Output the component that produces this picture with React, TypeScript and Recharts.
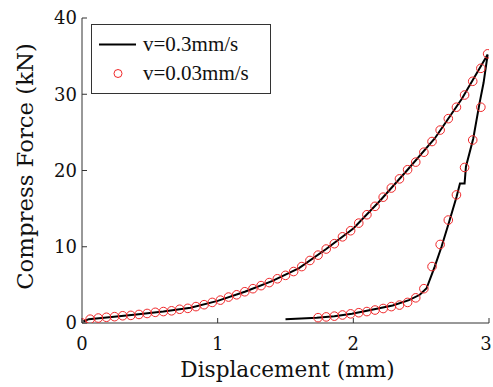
import { ComposedChart, Legend, Line, Scatter, XAxis, YAxis } from "recharts";

const FONT = "Liberation Serif, Times New Roman, serif";
// svg text only resolves this serif face by name
const SVG_FONT = "DejaVu Serif";

const xTicks = [0, 1, 2, 3];
const yTicks = [0, 10, 20, 30, 40];

// v=0.3mm/s: loading branch then unloading branch
const fastX = [
  0.01, 0.05, 0.2, 0.4, 0.6, 0.8, 1.0, 1.2, 1.4, 1.6, 1.8, 2.0, 2.2, 2.4, 2.6, 2.8, 2.99,
  2.96, 2.93, 2.884, 2.83, 2.82, 2.786, 2.761, 2.707, 2.65, 2.6, 2.54, 2.49, 2.41, 2.29, 2.1,
  1.99, 1.86, 1.73, 1.5
];
const fastY = [
  0.2, 0.5, 0.75, 1.1, 1.5, 2.0, 2.9, 4.1, 5.5, 7.2, 9.7, 12.4, 16.1, 20.1, 24.2, 29.4, 35.2,
  31.5, 28.8, 24.2, 20.5, 18.3, 18.3, 16.55, 13.3, 10.0, 7.4, 4.55, 3.7, 3.0, 2.3, 1.6,
  1.2, 0.9, 0.7, 0.5
];

// v=0.03mm/s markers, loading
const slowLoadX = [
  0, 0.06, 0.12, 0.18, 0.24, 0.3, 0.36, 0.42, 0.48, 0.54, 0.6, 0.66, 0.72, 0.78, 0.84, 0.9,
  0.96, 1.02, 1.08, 1.14, 1.2, 1.26, 1.32, 1.38, 1.44, 1.5, 1.56, 1.62, 1.68, 1.74, 1.8, 1.86,
  1.92, 1.98, 2.04, 2.1, 2.16, 2.22, 2.28, 2.34, 2.4, 2.46, 2.52, 2.58, 2.64, 2.7, 2.76, 2.82,
  2.88, 2.94, 2.99
];
const slowLoadY = [
  0, 0.5, 0.65, 0.75, 0.83, 0.95, 1.0, 1.12, 1.25, 1.4, 1.5, 1.6, 1.8, 1.92, 2.15, 2.4,
  2.7, 3.0, 3.4, 3.7, 4.1, 4.5, 4.9, 5.3, 5.8, 6.25, 6.75, 7.4, 8.2, 8.9, 9.7, 10.4,
  11.3, 12.1, 13.1, 14.2, 15.3, 16.5, 17.7, 18.9, 20.1, 21.1, 22.4, 23.8, 25.3, 26.8, 28.3, 29.9,
  31.7, 33.4, 35.3
];

// v=0.03mm/s markers, unloading
const slowUnloadX = [
  2.94, 2.88, 2.82, 2.76, 2.7, 2.64, 2.58, 2.52, 2.46, 2.4, 2.34, 2.28, 2.22, 2.16, 2.1, 2.04,
  1.98, 1.92, 1.86, 1.8, 1.74
];
const slowUnloadY = [
  28.3, 24.0, 20.4, 16.8, 13.5, 10.3, 7.4, 4.5, 3.3, 2.7, 2.35, 2.15, 1.9, 1.7, 1.5, 1.35,
  1.2, 1.05, 0.9, 0.8, 0.7
];

const fast = fastX.map((x, i) => ({ x, y: fastY[i] }));
const slow = [
  ...slowLoadX.map((x, i) => ({ x, y: slowLoadY[i] })),
  ...slowUnloadX.map((x, i) => ({ x, y: slowUnloadY[i] }))
];

const RED = "#f0282a";
const AXIS = "#333";
const INK = "#111";

function XTick(props: any) {
  const { x, y, payload, index } = props;
  // keep the last label inside the canvas edge
  const dx = index === xTicks.length - 1 ? -3 : 0;
  return (
    <text x={x} y={y} dx={dx} dy="0.72em" textAnchor="middle" fill={INK} fontSize={18} fontFamily={SVG_FONT}>
      {payload.value}
    </text>
  );
}

function YTick(props: any) {
  const { x, y, payload } = props;
  return (
    <text x={x} y={y} dy="0.36em" textAnchor="end" fill={INK} fontSize={18} fontFamily={SVG_FONT}>
      {payload.value}
    </text>
  );
}

function XLabel(props: any) {
  const vb = props.viewBox || {};
  return (
    <text
      x={vb.x + vb.width / 2 + 2}
      y={vb.y + vb.height - 10}
      textAnchor="middle"
      fill={INK}
      fontSize={21.6}
      fontFamily={SVG_FONT}
    >
      Displacement (mm)
    </text>
  );
}

function YLabel(props: any) {
  const vb = props.viewBox || {};
  const cx = vb.x + 25;
  const cy = vb.y + vb.height / 2 - 4;
  return (
    <text
      x={cx}
      y={cy}
      dy="0.36em"
      textAnchor="middle"
      transform={`rotate(-90, ${cx}, ${cy})`}
      fill={INK}
      fontSize={22.8}
      fontFamily={SVG_FONT}
    >
      Compress Force (kN)
    </text>
  );
}

function Ring(props: any) {
  const { cx, cy } = props;
  if (cx == null || cy == null) return null;
  return <circle cx={cx} cy={cy} r={4.3} fill="none" stroke={RED} strokeWidth={1} />;
}

function LegendBox(props: any) {
  const items = [...(props.payload || [])].sort(
    (a: any, b: any) => (a.type === "line" ? 0 : 1) - (b.type === "line" ? 0 : 1)
  );
  return (
    <div
      style={{
        border: `1.3px solid ${AXIS}`,
        background: "#fff",
        width: 178,
        padding: "5px 0",
        fontFamily: FONT,
        fontSize: 21,
        color: INK
      }}
    >
      {items.map((it: any) => (
        <div key={it.value} style={{ display: "flex", alignItems: "center", height: 29 }}>
          <svg width={51} height={29} style={{ flex: "none" }}>
            {it.type === "line" ? (
              <line x1={7} x2={44} y1={14.5} y2={14.5} stroke="#000" strokeWidth={2} />
            ) : (
              <circle cx={26} cy={14.5} r={4} fill="none" stroke={RED} strokeWidth={1} />
            )}
          </svg>
          <span style={{ whiteSpace: "nowrap" }}>{it.value}</span>
        </div>
      ))}
    </div>
  );
}

export default function App() {
  return (
    <div
      style={{
        position: "absolute",
        left: 0,
        top: 0,
        width: 493,
        height: 387,
        background: "#fff",
        fontFamily: FONT
      }}
    >
      <ComposedChart width={493} height={387} margin={{ top: 18, right: 4, bottom: 0, left: 0 }}>
        <XAxis
          xAxisId="b"
          dataKey="x"
          type="number"
          domain={[0, 3]}
          ticks={xTicks}
          height={64}
          tickSize={-5}
          tickMargin={19}
          stroke={AXIS}
          tick={XTick}
          allowDataOverflow
          label={XLabel}
        />
        <XAxis
          xAxisId="t"
          orientation="top"
          type="number"
          domain={[0, 3]}
          ticks={xTicks}
          height={0}
          tick={false}
          tickSize={-5}
          stroke={AXIS}
        />
        <YAxis
          yAxisId="l"
          type="number"
          domain={[0, 40]}
          ticks={yTicks}
          width={82}
          tickSize={-5}
          tickMargin={10}
          stroke={AXIS}
          tick={YTick}
          allowDataOverflow
          label={YLabel}
        />
        <YAxis
          yAxisId="r"
          orientation="right"
          type="number"
          domain={[0, 40]}
          ticks={yTicks}
          width={0}
          tick={false}
          tickSize={-5}
          stroke={AXIS}
        />
        <Legend
          layout="vertical"
          align="center"
          verticalAlign="middle"
          wrapperStyle={{ left: 91, top: 24 }}
          content={LegendBox}
        />
        <Line
          xAxisId="b"
          yAxisId="l"
          data={fast}
          dataKey="y"
          name="v=0.3mm/s"
          type="linear"
          stroke="#000"
          strokeWidth={2}
          dot={false}
          legendType="line"
          isAnimationActive={false}
        />
        <Scatter
          xAxisId="b"
          yAxisId="l"
          data={slow}
          dataKey="y"
          name="v=0.03mm/s"
          shape={Ring}
          fill={RED}
          legendType="circle"
          isAnimationActive={false}
        />
      </ComposedChart>
    </div>
  );
}
